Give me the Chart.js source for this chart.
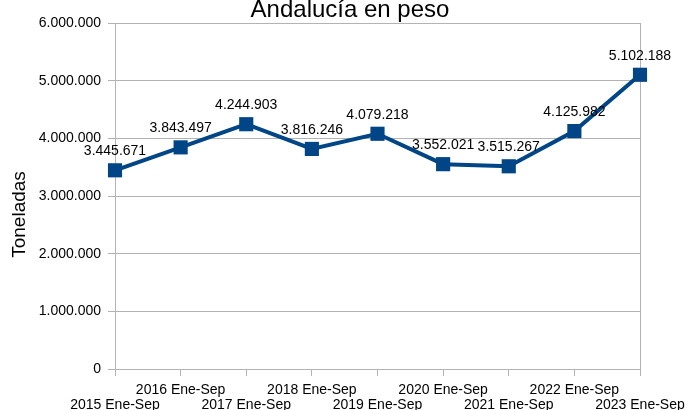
<!DOCTYPE html>
<html>
<head>
<meta charset="utf-8">
<script src="https://cdn.jsdelivr.net/npm/chart.js@4/dist/chart.umd.min.js"></script>
<style>
  body { margin: 0; background: #fff; }
  canvas { display: block; }
</style>
</head>
<body>
<canvas id="chart" width="685" height="410"></canvas>
<script>
// data
const categories = [
  "2015 Ene-Sep", "2016 Ene-Sep", "2017 Ene-Sep", "2018 Ene-Sep", "2019 Ene-Sep",
  "2020 Ene-Sep", "2021 Ene-Sep", "2022 Ene-Sep", "2023 Ene-Sep",
];
const toneladas = [3445671, 3843497, 4244903, 3816246, 4079218, 3552021, 3515267, 4125982, 5102188];
const y_ticks = [0, 1000000, 2000000, 3000000, 4000000, 5000000, 6000000];

const FONT = "'Liberation Sans', Arial, sans-serif";
const GRID = "#b3b3b3";
const BLUE = "#004586";

// 1234567 -> 1.234.567
const fmt = (v) => String(Math.round(v)).replace(/\B(?=(\d{3})+(?!\d))/g, ".");

// value labels above the points
const value_labels = {
  id: "value_labels",
  afterDatasetsDraw(chart) {
    const { ctx } = chart;
    const meta = chart.getDatasetMeta(0);
    ctx.save();
    ctx.font = "14px " + FONT;
    ctx.fillStyle = "#000";
    ctx.textAlign = "center";
    ctx.textBaseline = "alphabetic";
    meta.data.forEach((pt, i) => {
      ctx.fillText(fmt(toneladas[i]), pt.x, pt.y - 15);
    });
    ctx.restore();
  },
};

const chart = new Chart(document.getElementById("chart").getContext("2d"), {
  type: "line",
  data: {
    labels: categories,
    datasets: [
      {
        data: toneladas,
        borderColor: BLUE,
        backgroundColor: BLUE,
        borderWidth: 4,
        tension: 0,
        pointStyle: "rect",
        pointRadius: 10,
        pointHoverRadius: 10,
        pointBorderWidth: 0,
        pointBackgroundColor: BLUE,
        clip: false,
      },
    ],
  },
  options: {
    responsive: false,
    animation: false,
    layout: { padding: { left: 15, right: 0, top: 0, bottom: 0 } },
    plugins: {
      legend: { display: false },
      tooltip: { enabled: false },
      title: {
        display: true,
        text: "Andalucía en peso",
        color: "#000",
        font: { family: FONT, size: 24, weight: "normal", lineHeight: 0.85 },
        padding: { top: 0, bottom: 2.6 },
      },
    },
    scales: {
      x: {
        type: "category",
        offset: false,
        grid: {
          color: (c) => (c.index === categories.length - 1 ? GRID : "transparent"),
          tickColor: GRID,
          tickLength: 7,
        },
        border: { color: GRID },
        ticks: {
          autoSkip: false,
          maxRotation: 0,
          minRotation: 0,
          padding: 6,
          color: "#000",
          font: { family: FONT, size: 14, lineHeight: 1.1 },
          // even years on the lower row, odd years on the upper row
          callback: (v, i) => (i % 2 === 0 ? ["", categories[i]] : categories[i]),
        },
        afterFit: (s) => {
          s.height = 41;
          s.paddingRight = 45;
        },
      },
      y: {
        min: 0,
        max: 6000000,
        afterBuildTicks: (s) => {
          s.ticks = y_ticks.map((v) => ({ value: v }));
        },
        grid: { color: GRID, tickLength: 7 },
        border: { color: GRID },
        ticks: {
          padding: 7,
          color: "#000",
          font: { family: FONT, size: 14 },
          callback: (v) => fmt(v),
        },
        title: {
          display: true,
          // trailing nbsp push the word a bit lower, as in the original
          text: "Toneladas" + "\u00a0".repeat(7),
          color: "#000",
          font: { family: FONT, size: 19, lineHeight: 0.55 },
          padding: { top: 0, bottom: 0 },
        },
        afterFit: (s) => {
          s.width = 100;
        },
      },
    },
  },
  plugins: [value_labels],
});
</script>
</body>
</html>
